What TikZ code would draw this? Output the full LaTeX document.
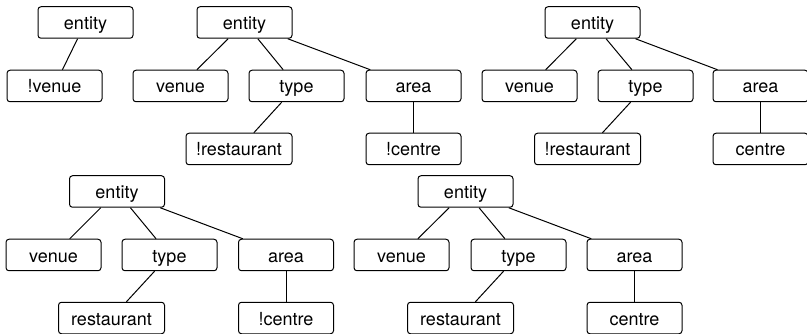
\documentclass[tikz,border=0pt]{standalone}
\usepackage{fontspec}
\setmainfont{TeX Gyre Heros}
\usetikzlibrary{positioning}
\tikzset{
  slotbox/.style={draw, rounded corners=3pt, line width=1pt, align=center,
    minimum width=95pt, minimum height=31.5pt, text height=18pt, text depth=4pt,
    inner sep=0pt, font=\fontsize{18}{20}\selectfont},
  widebox/.style={slotbox, minimum width=106pt},
  link/.style={line width=1pt}
}
\begin{document}
\begin{tikzpicture}[x=1pt, y=-1pt]
    \useasboundingbox (0,0) rectangle (807,334);
    % tree 1
    \node[slotbox] (ae) at (85.5,22.5) {entity};
    \node[slotbox] (av) at (54.5,86) {!venue};
    \draw[link] (ae) -- (av);
    % tree 2
    \node[slotbox] (be) at (244.5,22.5) {entity};
    \node[slotbox] (bv) at (180.5,86) {venue};
    \node[slotbox] (bt) at (296.5,86) {type};
    \node[slotbox] (ba) at (413.5,86) {area};
    \node[widebox] (br) at (239,149) {!restaurant};
    \node[slotbox] (bc) at (413.5,149) {!centre};
    \draw[link] (be) -- (bv);
    \draw[link] (be) -- (bt);
    \draw[link] (be) -- (ba);
    \draw[link] (bt) -- (br);
    \draw[link] (ba) -- (bc);
    % tree 3
    \node[slotbox] (ce) at (592.5,22.5) {entity};
    \node[slotbox] (cv) at (529.5,86) {venue};
    \node[slotbox] (ct) at (645.5,86) {type};
    \node[slotbox] (ca) at (760.5,86) {area};
    \node[widebox] (cr) at (587.5,149) {!restaurant};
    \node[slotbox] (cc) at (760.5,149) {centre};
    \draw[link] (ce) -- (cv);
    \draw[link] (ce) -- (ct);
    \draw[link] (ce) -- (ca);
    \draw[link] (ct) -- (cr);
    \draw[link] (ca) -- (cc);
    % tree 4
    \node[slotbox] (de) at (117,191.5) {entity};
    \node[slotbox] (dv) at (53.5,255) {venue};
    \node[slotbox] (dt) at (169.5,255) {type};
    \node[slotbox] (da) at (286,255) {area};
    \node[widebox] (dr) at (111.5,318) {restaurant};
    \node[slotbox] (dc) at (286,318) {!centre};
    \draw[link] (de) -- (dv);
    \draw[link] (de) -- (dt);
    \draw[link] (de) -- (da);
    \draw[link] (dt) -- (dr);
    \draw[link] (da) -- (dc);
    % tree 5
    \node[slotbox] (ee) at (465.5,191.5) {entity};
    \node[slotbox] (ev) at (401.5,255) {venue};
    \node[slotbox] (et) at (518.5,255) {type};
    \node[slotbox] (ea) at (634.5,255) {area};
    \node[widebox] (er) at (460.5,318) {restaurant};
    \node[slotbox] (ec) at (634.5,318) {centre};
    \draw[link] (ee) -- (ev);
    \draw[link] (ee) -- (et);
    \draw[link] (ee) -- (ea);
    \draw[link] (et) -- (er);
    \draw[link] (ea) -- (ec);
\end{tikzpicture}
\end{document}
